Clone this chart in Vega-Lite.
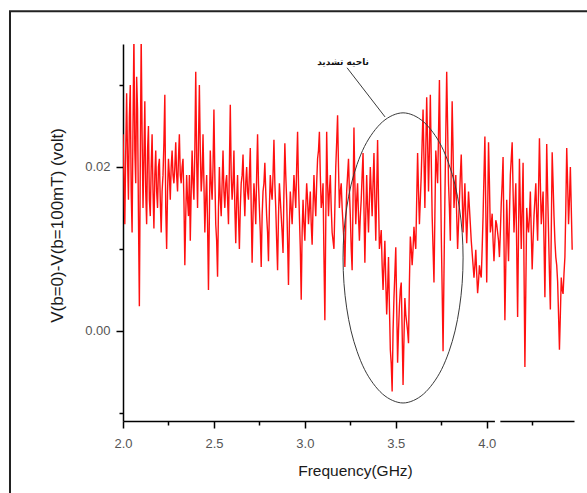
{
  "$schema": "https://vega.github.io/schema/vega-lite/v6.json",
  "autosize": {"type": "none"},
  "width": 451,
  "height": 377,
  "padding": {"left": 123, "top": 44, "right": 13, "bottom": 72},
  "background": "white",
  "config": {"view": {"stroke": null}, "font": "Liberation Sans"},
  "datasets": {
    "sig": [
      {"f":2.00,"v":0.024},{"f":2.01,"v":0.013},{"f":2.02,"v":0.029},{"f":2.03,"v":0.016},{"f":2.04,"v":0.030},
      {"f":2.05,"v":0.012},{"f":2.06,"v":0.036},{"f":2.07,"v":0.018},{"f":2.08,"v":0.027},{"f":2.09,"v":0.003},
      {"f":2.10,"v":0.036},{"f":2.11,"v":0.015},{"f":2.12,"v":0.028},{"f":2.13,"v":0.013},{"f":2.14,"v":0.025},
      {"f":2.15,"v":0.014},{"f":2.16,"v":0.024},{"f":2.17,"v":0.0125},{"f":2.18,"v":0.022},{"f":2.19,"v":0.015},
      {"f":2.20,"v":0.021},{"f":2.21,"v":0.012},{"f":2.22,"v":0.019},{"f":2.23,"v":0.0288},{"f":2.24,"v":0.010},
      {"f":2.25,"v":0.021},{"f":2.26,"v":0.016},{"f":2.27,"v":0.022},{"f":2.28,"v":0.018},{"f":2.29,"v":0.023},
      {"f":2.30,"v":0.017},{"f":2.31,"v":0.024},{"f":2.32,"v":0.018},{"f":2.33,"v":0.021},{"f":2.34,"v":0.008},
      {"f":2.35,"v":0.019},{"f":2.36,"v":0.014},{"f":2.37,"v":0.011},{"f":2.38,"v":0.022},{"f":2.39,"v":0.016},
      {"f":2.40,"v":0.0316},{"f":2.41,"v":0.015},{"f":2.42,"v":0.030},{"f":2.43,"v":0.017},{"f":2.44,"v":0.024},
      {"f":2.45,"v":0.012},{"f":2.46,"v":0.019},{"f":2.47,"v":0.005},{"f":2.48,"v":0.022},{"f":2.49,"v":0.016},
      {"f":2.50,"v":0.027},{"f":2.51,"v":0.013},{"f":2.52,"v":0.0066},{"f":2.53,"v":0.020},{"f":2.54,"v":0.014},
      {"f":2.55,"v":0.022},{"f":2.56,"v":0.015},{"f":2.57,"v":0.019},{"f":2.58,"v":0.013},{"f":2.59,"v":0.0276},
      {"f":2.60,"v":0.016},{"f":2.61,"v":0.022},{"f":2.62,"v":0.0107},{"f":2.63,"v":0.019},{"f":2.64,"v":0.010},
      {"f":2.65,"v":0.018},{"f":2.66,"v":0.0215},{"f":2.67,"v":0.014},{"f":2.68,"v":0.020},{"f":2.69,"v":0.016},
      {"f":2.70,"v":0.0223},{"f":2.71,"v":0.0083},{"f":2.72,"v":0.018},{"f":2.73,"v":0.013},{"f":2.74,"v":0.024},
      {"f":2.75,"v":0.015},{"f":2.76,"v":0.0078},{"f":2.77,"v":0.017},{"f":2.78,"v":0.0205},{"f":2.79,"v":0.014},
      {"f":2.80,"v":0.0085},{"f":2.81,"v":0.019},{"f":2.82,"v":0.016},{"f":2.83,"v":0.0233},{"f":2.84,"v":0.015},
      {"f":2.85,"v":0.0074},{"f":2.86,"v":0.018},{"f":2.87,"v":0.014},{"f":2.88,"v":0.0095},{"f":2.89,"v":0.0229},
      {"f":2.90,"v":0.016},{"f":2.91,"v":0.0056},{"f":2.92,"v":0.017},{"f":2.93,"v":0.013},{"f":2.94,"v":0.019},
      {"f":2.95,"v":0.015},{"f":2.96,"v":0.0243},{"f":2.97,"v":0.014},{"f":2.98,"v":0.0038},{"f":2.99,"v":0.016},
      {"f":3.00,"v":0.011},{"f":3.01,"v":0.018},{"f":3.02,"v":0.013},{"f":3.03,"v":0.017},{"f":3.04,"v":0.0105},
      {"f":3.05,"v":0.019},{"f":3.06,"v":0.014},{"f":3.07,"v":0.021},{"f":3.08,"v":0.0243},{"f":3.09,"v":0.015},
      {"f":3.10,"v":0.018},{"f":3.11,"v":0.0013},{"f":3.12,"v":0.0243},{"f":3.13,"v":0.014},{"f":3.14,"v":0.019},
      {"f":3.15,"v":0.012},{"f":3.16,"v":0.010},{"f":3.17,"v":0.020},{"f":3.18,"v":0.0263},{"f":3.19,"v":0.015},
      {"f":3.20,"v":0.018},{"f":3.21,"v":0.013},{"f":3.22,"v":0.0078},{"f":3.23,"v":0.017},{"f":3.24,"v":0.021},
      {"f":3.25,"v":0.014},{"f":3.26,"v":0.0074},{"f":3.27,"v":0.0248},{"f":3.28,"v":0.013},{"f":3.29,"v":0.018},
      {"f":3.30,"v":0.011},{"f":3.31,"v":0.016},{"f":3.32,"v":0.0217},{"f":3.33,"v":0.0083},{"f":3.34,"v":0.019},
      {"f":3.35,"v":0.012},{"f":3.36,"v":0.020},{"f":3.37,"v":0.014},{"f":3.38,"v":0.0217},{"f":3.39,"v":0.011},
      {"f":3.40,"v":0.0233},{"f":3.41,"v":0.010},{"f":3.42,"v":0.0123},{"f":3.43,"v":0.005},{"f":3.44,"v":0.011},
      {"f":3.45,"v":0.002},{"f":3.46,"v":0.009},{"f":3.47,"v":-0.0023},{"f":3.48,"v":-0.0074},{"f":3.49,"v":0.004},
      {"f":3.50,"v":0.0102},{"f":3.51,"v":-0.0039},{"f":3.52,"v":0.003},{"f":3.53,"v":0.0059},{"f":3.54,"v":-0.0066},
      {"f":3.55,"v":0.004},{"f":3.56,"v":0.001},{"f":3.57,"v":-0.0015},{"f":3.58,"v":0.0115},{"f":3.59,"v":0.008},
      {"f":3.60,"v":0.0127},{"f":3.61,"v":0.010},{"f":3.62,"v":0.0217},{"f":3.63,"v":0.013},{"f":3.64,"v":0.019},
      {"f":3.65,"v":0.027},{"f":3.66,"v":0.015},{"f":3.67,"v":0.0285},{"f":3.68,"v":0.017},{"f":3.69,"v":0.0288},
      {"f":3.70,"v":0.014},{"f":3.71,"v":0.0059},{"f":3.72,"v":0.022},{"f":3.73,"v":0.018},{"f":3.74,"v":0.0306},
      {"f":3.75,"v":0.012},{"f":3.76,"v":-0.0025},{"f":3.77,"v":0.016},{"f":3.78,"v":0.0316},{"f":3.79,"v":0.018},
      {"f":3.80,"v":0.011},{"f":3.81,"v":0.028},{"f":3.82,"v":0.015},{"f":3.83,"v":0.019},{"f":3.84,"v":0.010},
      {"f":3.85,"v":0.016},{"f":3.86,"v":0.0215},{"f":3.87,"v":0.012},{"f":3.88,"v":0.018},{"f":3.89,"v":0.0107},
      {"f":3.90,"v":0.017},{"f":3.91,"v":0.013},{"f":3.92,"v":0.0095},{"f":3.93,"v":0.0065},{"f":3.94,"v":0.0099},
      {"f":3.95,"v":0.0046},{"f":3.96,"v":0.008},{"f":3.97,"v":0.0065},{"f":3.98,"v":0.014},{"f":3.99,"v":0.0237},
      {"f":4.00,"v":0.0059},{"f":4.01,"v":0.023},{"f":4.02,"v":0.012},{"f":4.03,"v":0.0143},{"f":4.04,"v":0.0085},
      {"f":4.05,"v":0.0135},{"f":4.06,"v":0.012},{"f":4.07,"v":0.009},{"f":4.08,"v":0.0155},{"f":4.09,"v":0.0212},
      {"f":4.10,"v":0.0013},{"f":4.11,"v":0.016},{"f":4.12,"v":0.0085},{"f":4.13,"v":0.019},{"f":4.14,"v":0.023},
      {"f":4.15,"v":0.012},{"f":4.16,"v":0.018},{"f":4.17,"v":0.0017},{"f":4.18,"v":0.021},{"f":4.19,"v":0.010},
      {"f":4.20,"v":0.0205},{"f":4.21,"v":-0.0044},{"f":4.22,"v":0.015},{"f":4.23,"v":0.012},{"f":4.24,"v":0.017},
      {"f":4.25,"v":0.0075},{"f":4.26,"v":0.014},{"f":4.27,"v":0.018},{"f":4.28,"v":0.011},{"f":4.29,"v":0.0235},
      {"f":4.30,"v":0.013},{"f":4.31,"v":0.017},{"f":4.32,"v":0.0041},{"f":4.33,"v":0.0228},{"f":4.34,"v":0.012},
      {"f":4.35,"v":0.0026},{"f":4.36,"v":0.0218},{"f":4.37,"v":0.014},{"f":4.38,"v":0.009},{"f":4.39,"v":0.006},
      {"f":4.40,"v":-0.0023},{"f":4.41,"v":0.0065},{"f":4.42,"v":0.0045},{"f":4.43,"v":0.009},{"f":4.44,"v":0.0223},
      {"f":4.45,"v":0.013},{"f":4.46,"v":0.020},{"f":4.47,"v":0.0099},
      {"f":2.005,"v":0.019},{"f":2.015,"v":0.022},{"f":2.025,"v":0.021},{"f":2.035,"v":0.026},{"f":2.045,"v":0.017},
      {"f":2.055,"v":0.025},{"f":2.065,"v":0.022},{"f":2.075,"v":0.031},{"f":2.085,"v":0.014},{"f":2.095,"v":0.020},
      {"f":2.105,"v":0.024},{"f":2.115,"v":0.021},{"f":2.125,"v":0.017},{"f":2.135,"v":0.022},{"f":2.145,"v":0.016},
      {"f":2.155,"v":0.020},{"f":2.165,"v":0.017},{"f":2.175,"v":0.019},{"f":2.185,"v":0.017},{"f":2.195,"v":0.020},
      {"f":2.205,"v":0.016},{"f":2.215,"v":0.017},{"f":2.225,"v":0.023},{"f":2.235,"v":0.015},{"f":2.245,"v":0.017},
      {"f":2.255,"v":0.019},{"f":2.265,"v":0.020},{"f":2.275,"v":0.019},{"f":2.285,"v":0.020},{"f":2.295,"v":0.019},
      {"f":2.305,"v":0.021},{"f":2.315,"v":0.019},{"f":2.325,"v":0.020},{"f":2.335,"v":0.016},{"f":2.345,"v":0.014},
      {"f":2.355,"v":0.016},{"f":2.365,"v":0.019},{"f":2.375,"v":0.017},{"f":2.385,"v":0.018},{"f":2.395,"v":0.022},
      {"f":2.405,"v":0.021},{"f":2.415,"v":0.023},{"f":2.425,"v":0.022},{"f":2.435,"v":0.019},{"f":2.445,"v":0.018},
      {"f":2.455,"v":0.016},{"f":2.465,"v":0.013},{"f":2.475,"v":0.014},{"f":2.485,"v":0.018},{"f":2.495,"v":0.020},
      {"f":2.505,"v":0.019},{"f":2.515,"v":0.011},{"f":2.525,"v":0.015},{"f":2.535,"v":0.016},{"f":2.545,"v":0.018},
      {"f":2.555,"v":0.017},{"f":2.565,"v":0.018},{"f":2.575,"v":0.016},{"f":2.585,"v":0.020},{"f":2.595,"v":0.019},
      {"f":2.605,"v":0.018},{"f":2.615,"v":0.015},{"f":2.625,"v":0.016},{"f":2.635,"v":0.014},{"f":2.645,"v":0.015},
      {"f":2.655,"v":0.019},{"f":2.665,"v":0.017},{"f":2.675,"v":0.018},{"f":2.685,"v":0.017},{"f":2.695,"v":0.019},
      {"f":2.705,"v":0.015},{"f":2.715,"v":0.014},{"f":2.725,"v":0.016},{"f":2.735,"v":0.019},{"f":2.745,"v":0.018},
      {"f":2.755,"v":0.012},{"f":2.765,"v":0.014},{"f":2.775,"v":0.018},{"f":2.785,"v":0.017},{"f":2.795,"v":0.012},
      {"f":2.805,"v":0.015},{"f":2.815,"v":0.017},{"f":2.825,"v":0.019},{"f":2.835,"v":0.018},{"f":2.845,"v":0.011},
      {"f":2.855,"v":0.014},{"f":2.865,"v":0.016},{"f":2.875,"v":0.012},{"f":2.885,"v":0.017},{"f":2.895,"v":0.019},
      {"f":2.905,"v":0.011},{"f":2.915,"v":0.013},{"f":2.925,"v":0.015},{"f":2.935,"v":0.016},{"f":2.945,"v":0.017},
      {"f":2.955,"v":0.020},{"f":2.965,"v":0.018},{"f":2.975,"v":0.010},{"f":2.985,"v":0.012},{"f":2.995,"v":0.013},
      {"f":3.005,"v":0.015},{"f":3.015,"v":0.016},{"f":3.025,"v":0.015},{"f":3.035,"v":0.013},{"f":3.045,"v":0.015},
      {"f":3.055,"v":0.016},{"f":3.065,"v":0.018},{"f":3.075,"v":0.022},{"f":3.085,"v":0.019},{"f":3.095,"v":0.016},
      {"f":3.105,"v":0.009},{"f":3.115,"v":0.013},{"f":3.125,"v":0.018},{"f":3.135,"v":0.017},{"f":3.145,"v":0.015},
      {"f":3.155,"v":0.011},{"f":3.165,"v":0.015},{"f":3.175,"v":0.023},{"f":3.185,"v":0.020},{"f":3.195,"v":0.017},
      {"f":3.205,"v":0.015},{"f":3.215,"v":0.011},{"f":3.225,"v":0.013},{"f":3.235,"v":0.019},{"f":3.245,"v":0.017},
      {"f":3.255,"v":0.010},{"f":3.265,"v":0.016},{"f":3.275,"v":0.018},{"f":3.285,"v":0.016},{"f":3.295,"v":0.014},
      {"f":3.305,"v":0.014},{"f":3.315,"v":0.019},{"f":3.325,"v":0.015},{"f":3.335,"v":0.014},{"f":3.345,"v":0.015},
      {"f":3.355,"v":0.016},{"f":3.365,"v":0.017},{"f":3.375,"v":0.018},{"f":3.385,"v":0.016},{"f":3.395,"v":0.017},
      {"f":3.405,"v":0.016},{"f":3.415,"v":0.011},{"f":3.425,"v":0.008},{"f":3.435,"v":0.008},{"f":3.445,"v":0.006},
      {"f":3.455,"v":0.005},{"f":3.465,"v":0.003},{"f":3.475,"v":-0.004},{"f":3.485,"v":0.000},{"f":3.495,"v":0.007},
      {"f":3.505,"v":0.003},{"f":3.515,"v":0.000},{"f":3.525,"v":0.005},{"f":3.535,"v":0.000},{"f":3.545,"v":-0.001},
      {"f":3.555,"v":0.002},{"f":3.565,"v":0.000},{"f":3.575,"v":0.006},{"f":3.585,"v":0.010},{"f":3.595,"v":0.010},
      {"f":3.605,"v":0.011},{"f":3.615,"v":0.016},{"f":3.625,"v":0.017},{"f":3.635,"v":0.016},{"f":3.645,"v":0.023},
      {"f":3.655,"v":0.021},{"f":3.665,"v":0.022},{"f":3.675,"v":0.023},{"f":3.685,"v":0.022},{"f":3.695,"v":0.021},
      {"f":3.705,"v":0.010},{"f":3.715,"v":0.014},{"f":3.725,"v":0.020},{"f":3.735,"v":0.024},{"f":3.745,"v":0.021},
      {"f":3.755,"v":0.005},{"f":3.765,"v":0.007},{"f":3.775,"v":0.024},{"f":3.785,"v":0.025},{"f":3.795,"v":0.015},
      {"f":3.805,"v":0.020},{"f":3.815,"v":0.022},{"f":3.825,"v":0.017},{"f":3.835,"v":0.014},{"f":3.845,"v":0.013},
      {"f":3.855,"v":0.019},{"f":3.865,"v":0.017},{"f":3.875,"v":0.015},{"f":3.885,"v":0.014},{"f":3.895,"v":0.014},
      {"f":3.905,"v":0.015},{"f":3.915,"v":0.011},{"f":3.925,"v":0.008},{"f":3.935,"v":0.008},{"f":3.945,"v":0.007},
      {"f":3.955,"v":0.006},{"f":3.965,"v":0.007},{"f":3.975,"v":0.010},{"f":3.985,"v":0.019},{"f":3.995,"v":0.015},
      {"f":4.005,"v":0.014},{"f":4.015,"v":0.018},{"f":4.025,"v":0.013},{"f":4.035,"v":0.011},{"f":4.045,"v":0.011},
      {"f":4.055,"v":0.013},{"f":4.065,"v":0.011},{"f":4.075,"v":0.012},{"f":4.085,"v":0.018},{"f":4.095,"v":0.011},
      {"f":4.105,"v":0.008},{"f":4.115,"v":0.012},{"f":4.125,"v":0.014},{"f":4.135,"v":0.021},{"f":4.145,"v":0.017},
      {"f":4.155,"v":0.015},{"f":4.165,"v":0.010},{"f":4.175,"v":0.012},{"f":4.185,"v":0.015},{"f":4.195,"v":0.015},
      {"f":4.205,"v":0.008},{"f":4.215,"v":0.005},{"f":4.225,"v":0.013},{"f":4.235,"v":0.014},{"f":4.245,"v":0.012},
      {"f":4.255,"v":0.011},{"f":4.265,"v":0.016},{"f":4.275,"v":0.014},{"f":4.285,"v":0.017},{"f":4.295,"v":0.018},
      {"f":4.305,"v":0.015},{"f":4.315,"v":0.011},{"f":4.325,"v":0.013},{"f":4.335,"v":0.017},{"f":4.345,"v":0.007},
      {"f":4.355,"v":0.012},{"f":4.365,"v":0.018},{"f":4.375,"v":0.011},{"f":4.385,"v":0.008},{"f":4.395,"v":0.002},
      {"f":4.405,"v":0.002},{"f":4.415,"v":0.005},{"f":4.425,"v":0.007},{"f":4.435,"v":0.015},{"f":4.445,"v":0.018},
      {"f":4.455,"v":0.016},{"f":4.465,"v":0.015}
    ],
    "ell": [
      {"i":0,"f":3.870,"v":0.0089},{"i":1,"f":3.865,"v":0.0120},{"i":2,"f":3.850,"v":0.0150},{"i":3,"f":3.826,"v":0.0178},
      {"i":4,"f":3.793,"v":0.0203},{"i":5,"f":3.752,"v":0.0225},{"i":6,"f":3.705,"v":0.0242},{"i":7,"f":3.653,"v":0.0255},
      {"i":8,"f":3.597,"v":0.0263},{"i":9,"f":3.540,"v":0.0266},{"i":10,"f":3.483,"v":0.0263},{"i":11,"f":3.427,"v":0.0255},
      {"i":12,"f":3.375,"v":0.0242},{"i":13,"f":3.328,"v":0.0225},{"i":14,"f":3.287,"v":0.0203},{"i":15,"f":3.254,"v":0.0178},
      {"i":16,"f":3.230,"v":0.0150},{"i":17,"f":3.215,"v":0.0120},{"i":18,"f":3.210,"v":0.0089},{"i":19,"f":3.215,"v":0.0058},
      {"i":20,"f":3.230,"v":0.0028},{"i":21,"f":3.254,"v":0.0000},{"i":22,"f":3.287,"v":-0.0025},{"i":23,"f":3.328,"v":-0.0047},
      {"i":24,"f":3.375,"v":-0.0064},{"i":25,"f":3.427,"v":-0.0077},{"i":26,"f":3.483,"v":-0.0085},{"i":27,"f":3.540,"v":-0.0088},
      {"i":28,"f":3.597,"v":-0.0085},{"i":29,"f":3.653,"v":-0.0077},{"i":30,"f":3.705,"v":-0.0064},{"i":31,"f":3.752,"v":-0.0047},
      {"i":32,"f":3.793,"v":-0.0025},{"i":33,"f":3.826,"v":0.0000},{"i":34,"f":3.850,"v":0.0028},{"i":35,"f":3.865,"v":0.0058}
    ]
  },
  "encoding": {
    "x": {
      "field": "f", "type": "quantitative",
      "scale": {"domain": [2, 4.48], "nice": false, "zero": false},
      "axis": {
        "title": "Frequency(GHz)",
        "values": [2, 2.25, 2.5, 2.75, 3, 3.25, 3.5, 3.75, 4, 4.25],
        "labelExpr": "datum.value * 2 == round(datum.value * 2) ? format(datum.value, '.1f') : ''",
        "grid": false,
        "domainColor": "#000", "domainWidth": 1.5,
        "tickColor": "#000", "tickWidth": 1.5,
        "tickSize": {"condition": {"test": "datum.value * 2 == round(datum.value * 2)", "value": 7}, "value": 4},
        "labelPadding": 9, "labelFontSize": 13, "labelColor": "#555", "labelFont": "Liberation Sans",
        "labelFlush": false, "labelOverlap": false,
        "titleFontSize": 15.5, "titleFontWeight": "normal", "titleColor": "#1a1a1a", "titleFont": "Liberation Sans",
        "titlePadding": 13, "titleX": 232, "titleAnchor": "middle"
      }
    },
    "y": {
      "field": "v", "type": "quantitative",
      "scale": {"domain": [-0.011, 0.035], "nice": false, "zero": false},
      "axis": {
        "title": "V(b=0)-V(b=100mT) (volt)",
        "values": [-0.01, 0, 0.01, 0.02, 0.03],
        "labelExpr": "datum.value == 0 || datum.value == 0.02 ? format(datum.value, '.2f') : ''",
        "grid": false,
        "domainColor": "#000", "domainWidth": 1.5,
        "tickColor": "#000", "tickWidth": 1.5,
        "tickSize": {"condition": {"test": "datum.value == 0 || datum.value == 0.02", "value": 7}, "value": 4},
        "labelPadding": 6, "labelFontSize": 13, "labelColor": "#555", "labelFont": "Liberation Sans",
        "labelFlush": false, "labelOverlap": false,
        "titleFontSize": 17, "titleFontWeight": "normal", "titleColor": "#1a1a1a", "titleFont": "Liberation Sans",
        "titlePadding": 18, "titleY": 181, "titleAnchor": "middle"
      }
    }
  },
  "layer": [
    {
      "data": {"name": "sig"},
      "mark": {"type": "line", "stroke": "#ff1010", "strokeWidth": 1.4, "clip": true}
    },
    {
      "data": {"name": "ell"},
      "mark": {"type": "line", "stroke": "#3a3a3a", "strokeWidth": 1, "interpolate": "cardinal-closed"},
      "encoding": {"order": {"field": "i", "type": "quantitative"}}
    },
    {
      "data": {"values": [{"f": 3.232, "v": 0.0321, "f2": 3.441, "v2": 0.0261}]},
      "mark": {"type": "rule", "stroke": "#3a3a3a", "strokeWidth": 1},
      "encoding": {"x2": {"field": "f2"}, "y2": {"field": "v2"}}
    },
    {
      "data": {"values": [{"f": 3.21, "v": 0.0328, "t": "ناحیه تشدید"}]},
      "mark": {"type": "text", "font": "DejaVu Sans", "fontSize": 9, "fontWeight": "bold", "color": "#111", "align": "center", "baseline": "middle"},
      "encoding": {"text": {"field": "t"}}
    },
    {
      "data": {"values": [{"f": 4.045, "f2": 4.075, "v": -0.011}]},
      "mark": {"type": "rule", "stroke": "white", "strokeWidth": 5},
      "encoding": {"x2": {"field": "f2"}}
    },
    {
      "data": {"values": [{"f": 1.3786, "f2": 4.6, "v": 0.039, "v2": -0.025}]},
      "mark": {"type": "rect", "fill": null, "fillOpacity": 0, "stroke": "#222", "strokeWidth": 2, "clip": false},
      "encoding": {"x2": {"field": "f2"}, "y2": {"field": "v2"}}
    }
  ]
}
